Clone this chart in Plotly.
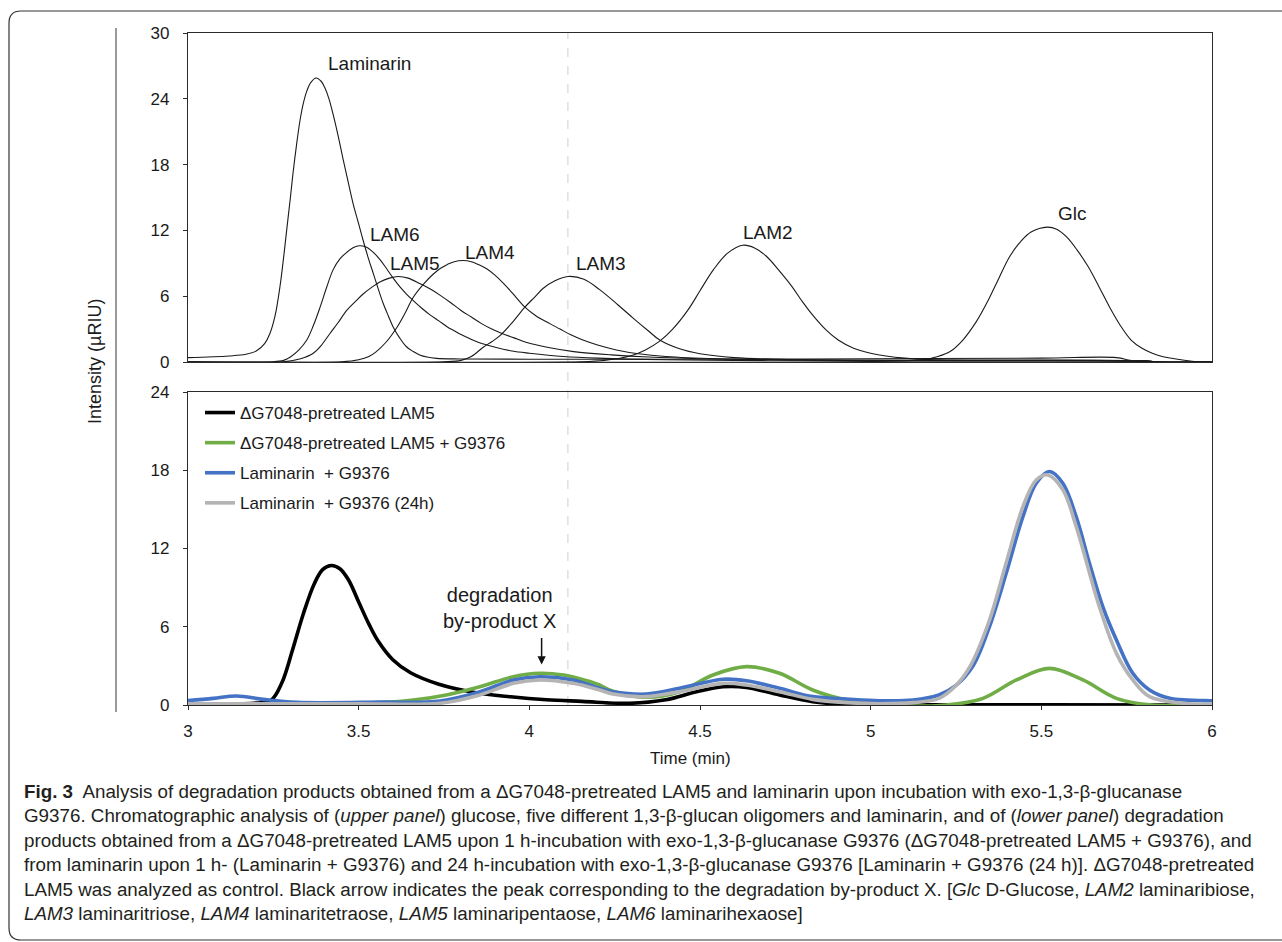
import plotly.graph_objects as go

# ---------------- data ----------------
# Upper panel: standards (time in min, intensity in µRIU)
lam_x = [3.0, 3.12, 3.17, 3.20, 3.225, 3.24, 3.255, 3.27, 3.28, 3.289, 3.30, 3.308, 3.318, 3.328, 3.338,
         3.348, 3.36, 3.375, 3.39, 3.401, 3.413, 3.425, 3.44, 3.455, 3.47, 3.484, 3.50, 3.513, 3.528, 3.543,
         3.558, 3.572, 3.587, 3.601, 3.62, 3.64, 3.66, 3.679, 3.70, 3.728, 3.8, 4.0, 4.5, 5.0, 5.5, 5.72,
         5.76, 5.8, 6.0]
lam_y = [0.4, 0.55, 0.7, 1.0, 1.7, 2.6, 4.2, 7.0, 9.5, 12.0, 15.0, 17.3, 19.8, 22.0, 23.6,
         24.7, 25.5, 25.9, 25.6, 25.0, 24.0, 22.6, 20.6, 18.4, 16.3, 14.4, 12.6, 11.1, 9.5, 8.06,
         6.6, 5.33, 4.2, 3.2, 2.2, 1.39, 0.95, 0.64, 0.45, 0.33, 0.28, 0.25, 0.25, 0.3, 0.35, 0.4,
         0.15, 0.0, 0.0]

lam6_x = [3.0, 3.25, 3.28, 3.30, 3.325, 3.348, 3.367, 3.387, 3.405, 3.425, 3.445, 3.465, 3.485, 3.502, 3.52,
          3.543, 3.562, 3.582, 3.60, 3.621, 3.64, 3.66, 3.685, 3.709, 3.735, 3.76, 3.78, 3.80, 3.85, 3.90,
          3.95, 4.0, 4.1, 4.2, 4.4, 4.7, 5.0, 5.5, 5.8, 5.85, 6.0]
lam6_y = [0.0, 0.02, 0.15, 0.45, 1.1, 2.0, 3.3, 5.0, 6.7, 8.4, 9.4, 10.0, 10.45, 10.6, 10.5,
          10.0, 9.35, 8.5, 7.7, 6.85, 6.2, 5.6, 4.9, 4.3, 3.75, 3.2, 2.85, 2.5, 1.8, 1.35,
          1.0, 0.8, 0.5, 0.35, 0.2, 0.12, 0.1, 0.1, 0.08, 0.0, 0.0]

lam5_x = [3.0, 3.28, 3.33, 3.367, 3.39, 3.416, 3.44, 3.465, 3.49, 3.513, 3.54, 3.562, 3.59, 3.616, 3.645,
          3.679, 3.71, 3.738, 3.77, 3.80, 3.83, 3.86, 3.89, 3.92, 3.955, 3.99, 4.06, 4.13, 4.24, 4.35,
          4.5, 4.7, 5.0, 5.5, 5.8, 5.85, 6.0]
lam5_y = [0.0, 0.02, 0.3, 0.8, 1.5, 2.6, 3.6, 4.7, 5.5, 6.2, 6.85, 7.3, 7.65, 7.8, 7.65,
          7.15, 6.65, 6.1, 5.4, 4.7, 4.1, 3.5, 3.0, 2.6, 2.2, 1.8, 1.3, 0.95, 0.65, 0.45,
          0.3, 0.2, 0.12, 0.1, 0.08, 0.0, 0.0]

lam4_x = [3.0, 3.45, 3.50, 3.53, 3.55, 3.58, 3.611, 3.635, 3.66, 3.69, 3.718, 3.74, 3.76, 3.78, 3.805,
          3.83, 3.85, 3.875, 3.90, 3.925, 3.95, 3.987, 4.02, 4.06, 4.09, 4.12, 4.157, 4.20, 4.255, 4.32,
          4.40, 4.55, 4.8, 5.2, 5.6, 5.8, 5.85, 6.0]
lam4_y = [0.0, 0.02, 0.2, 0.5, 0.9, 1.8, 3.1, 4.4, 5.9, 7.1, 8.0, 8.55, 8.9, 9.15, 9.25,
          9.15, 8.9, 8.5, 7.9, 7.15, 6.3, 5.0, 4.2, 3.5, 3.0, 2.5, 2.0, 1.55, 1.1, 0.75,
          0.5, 0.3, 0.2, 0.15, 0.15, 0.1, 0.0, 0.0]

lam3_x = [3.0, 3.75, 3.80, 3.83, 3.865, 3.89, 3.914, 3.95, 3.987, 4.015, 4.04, 4.075, 4.113, 4.16, 4.206,
          4.26, 4.304, 4.35, 4.382, 4.44, 4.50, 4.6, 4.8, 5.2, 5.8, 5.85, 6.0]
lam3_y = [0.0, 0.02, 0.15, 0.5, 1.35, 1.85, 2.4, 3.6, 5.0, 5.9, 6.7, 7.4, 7.8, 7.55, 6.6,
          5.2, 4.0, 2.8, 2.0, 1.2, 0.75, 0.4, 0.2, 0.15, 0.1, 0.0, 0.0]

lam2_x = [3.0, 4.15, 4.22, 4.30, 4.34, 4.382, 4.42, 4.466, 4.50, 4.539, 4.58, 4.625, 4.66, 4.696, 4.73,
          4.769, 4.80, 4.832, 4.87, 4.905, 4.95, 5.0, 5.1, 5.2, 5.4, 5.8, 5.85, 6.0]
lam2_y = [0.0, 0.02, 0.15, 0.6, 1.1, 1.9, 3.0, 4.8, 6.5, 8.4, 9.9, 10.65, 10.4, 9.6, 8.4,
          6.9, 5.5, 4.2, 2.9, 2.0, 1.25, 0.8, 0.35, 0.2, 0.15, 0.1, 0.0, 0.0]

glc_x = [3.0, 5.0, 5.15, 5.197, 5.235, 5.27, 5.31, 5.344, 5.375, 5.407, 5.44, 5.47, 5.517, 5.545, 5.574,
         5.605, 5.637, 5.67, 5.70, 5.73, 5.763, 5.795, 5.825, 5.86, 5.899, 5.95, 6.0]
glc_y = [0.0, 0.05, 0.2, 0.5, 1.0, 2.0, 3.7, 5.6, 7.6, 9.6, 11.0, 11.85, 12.3, 12.1, 11.4,
         10.2, 8.7, 6.8, 5.0, 3.4, 2.0, 1.25, 0.8, 0.45, 0.25, 0.05, 0.0]

upper_names = ["Laminarin", "LAM6", "LAM5", "LAM4", "LAM3", "LAM2", "Glc"]
upper_label_x = [3.533, 3.606, 3.665, 3.885, 4.209, 4.70, 5.59]
upper_label_y = [27.2, 11.6, 9.0, 10.0, 9.0, 11.8, 13.5]

# Lower panel: digests
black_x = [3.0, 3.2, 3.244, 3.275, 3.306, 3.338, 3.37, 3.395, 3.42, 3.445, 3.47, 3.50, 3.53, 3.557, 3.60,
           3.652, 3.735, 3.84, 3.945, 4.05, 4.154, 4.294, 4.40, 4.49, 4.567, 4.636, 4.733, 4.83, 4.929,
           5.1, 5.5, 6.0]
black_y = [0.1, 0.15, 0.38, 1.7, 4.2, 7.0, 9.3, 10.4, 10.7, 10.45, 9.6, 7.9, 6.2, 4.9, 3.47,
           2.47, 1.59, 0.96, 0.63, 0.4, 0.28, 0.13, 0.4, 1.02, 1.4, 1.35, 0.77, 0.26, 0.03,
           0.02, 0.02, 0.0]

green_x = [3.0, 3.367, 3.562, 3.66, 3.757, 3.855, 3.953, 4.03, 4.10, 4.15, 4.20, 4.245, 4.343, 4.44, 4.538,
           4.636, 4.733, 4.83, 4.929, 5.026, 5.22, 5.329, 5.427, 5.524, 5.622, 5.72, 5.817, 6.0]
green_y = [0.0, 0.02, 0.18, 0.38, 0.77, 1.4, 2.17, 2.43, 2.3, 2.0, 1.6, 1.05, 0.59, 1.02, 2.3,
           2.94, 2.43, 1.15, 0.38, 0.02, 0.0, 0.51, 1.92, 2.81, 1.92, 0.51, 0.02, 0.0]

blue_x = [3.0, 3.074, 3.143, 3.22, 3.318, 3.562, 3.738, 3.855, 3.953, 4.03, 4.128, 4.206, 4.245, 4.343, 4.44,
          4.567, 4.636, 4.733, 4.83, 4.929, 5.026, 5.124, 5.2, 5.25, 5.30, 5.348, 5.397, 5.446, 5.485, 5.524,
          5.563, 5.602, 5.641, 5.68, 5.72, 5.768, 5.817, 5.876, 5.993, 6.0]
blue_y = [0.35, 0.51, 0.69, 0.43, 0.2, 0.22, 0.31, 1.02, 1.92, 2.17, 1.92, 1.28, 1.02, 0.84, 1.28,
          1.97, 1.86, 1.28, 0.64, 0.46, 0.33, 0.38, 0.77, 1.5, 3.0, 6.0, 10.1, 14.44, 17.0, 17.9,
          17.0, 14.44, 10.87, 7.54, 4.98, 2.43, 1.15, 0.51, 0.33, 0.33]

grey_x = [3.0, 3.5, 3.738, 3.855, 3.953, 4.03, 4.128, 4.206, 4.245, 4.343, 4.44, 4.567, 4.636, 4.733, 4.83,
          4.929, 5.026, 5.124, 5.2, 5.25, 5.29, 5.348, 5.397, 5.446, 5.485, 5.519, 5.563, 5.602, 5.67, 5.72,
          5.768, 5.817, 5.915, 6.0]
grey_y = [0.1, 0.1, 0.13, 0.77, 1.66, 1.92, 1.66, 1.15, 0.84, 0.64, 1.02, 1.66, 1.53, 1.02, 0.43,
          0.18, 0.1, 0.18, 0.51, 1.5, 2.9, 6.5, 10.9, 15.2, 17.25, 17.64, 16.5, 13.7, 7.54, 3.96,
          1.92, 0.64, 0.13, 0.05]

lower_names = ["ΔG7048-pretreated LAM5", "ΔG7048-pretreated LAM5 + G9376",
               "Laminarin\u00a0 + G9376", "Laminarin\u00a0 + G9376 (24h)"]
lower_colors = ["#000000", "#70AD47", "#4472C4", "#B4B4B4"]

x_ticks = [3, 3.5, 4, 4.5, 5, 5.5, 6]
x_ticktext = ["3", "3.5", "4", "4.5", "5", "5.5", "6"]
upper_yticks = [0, 6, 12, 18, 24, 30]
lower_yticks = [0, 6, 12, 18, 24]
marker_time = 4.113          # dashed reference line
byproduct_time = 4.036       # arrow position

caption_lines = [
    "<b>Fig. 3</b>  Analysis of degradation products obtained from a ΔG7048-pretreated LAM5 and laminarin upon incubation with exo-1,3-β-glucanase",
    "G9376. Chromatographic analysis of (<i>upper panel</i>) glucose, five different 1,3-β-glucan oligomers and laminarin, and of (<i>lower panel</i>) degradation",
    "products obtained from a ΔG7048-pretreated LAM5 upon 1 h-incubation with exo-1,3-β-glucanase G9376 (ΔG7048-pretreated LAM5 + G9376), and",
    "from laminarin upon 1 h- (Laminarin + G9376) and 24 h-incubation with exo-1,3-β-glucanase G9376 [Laminarin + G9376 (24 h)]. ΔG7048-pretreated",
    "LAM5 was analyzed as control. Black arrow indicates the peak corresponding to the degradation by-product X. [<i>Glc</i> D-Glucose, <i>LAM2</i> laminaribiose,",
    "<i>LAM3</i> laminaritriose, <i>LAM4</i> laminaritetraose, <i>LAM5</i> laminaripentaose, <i>LAM6</i> laminarihexaose]",
]

# ---------------- figure ----------------
W, H = 1282, 942
def px(x):
    return x / W
def py(y):
    return 1 - y / H

FONT = "Liberation Sans, Arial, Helvetica, sans-serif"
fig = go.Figure()

upper = [(lam_x, lam_y), (lam6_x, lam6_y), (lam5_x, lam5_y), (lam4_x, lam4_y),
         (lam3_x, lam3_y), (lam2_x, lam2_y), (glc_x, glc_y)]
for name, (xs, ys) in zip(upper_names, upper):
    fig.add_trace(go.Scatter(x=xs, y=ys, mode="lines", name=name, showlegend=False,
                             line=dict(color="#1a1a1a", width=1.1, shape="spline", smoothing=1.0),
                             xaxis="x", yaxis="y", hoverinfo="skip"))

lower = [(black_x, black_y), (green_x, green_y), (blue_x, blue_y), (grey_x, grey_y)]
for i, (name, col, (xs, ys)) in enumerate(zip(lower_names, lower_colors, lower)):
    fig.add_trace(go.Scatter(x=xs, y=ys, mode="lines", name=name, legendgroup=f"g{i}",
                             line=dict(color=col, width=3.6, shape="spline", smoothing=1.0),
                             xaxis="x2", yaxis="y2"))

xdom = [188 / W, 1212 / W]
axis_common = dict(showgrid=False, zeroline=False, showline=True, mirror=True,
                   linecolor="#2b2b2b", linewidth=1.4, automargin=False,
                   tickfont=dict(family=FONT, size=17, color="#1a1a1a"))

fig.update_layout(
    width=W, height=H, margin=dict(l=0, r=0, t=0, b=0),
    paper_bgcolor="white", plot_bgcolor="white",
    font=dict(family=FONT, color="#1a1a1a"),
    xaxis=dict(domain=xdom, range=[3, 6], anchor="y", ticks="", showticklabels=False, **axis_common),
    yaxis=dict(domain=[py(362), py(33)], range=[0, 30], tickvals=upper_yticks, ticks="outside",
               ticklen=4, tickcolor="#2b2b2b", ticklabelstandoff=10, anchor="x", **axis_common),
    xaxis2=dict(domain=xdom, range=[3, 6], anchor="y2", tickvals=x_ticks, ticktext=x_ticktext,
                ticks="outside", ticklen=4, tickcolor="#2b2b2b", ticklabelstandoff=6, **axis_common),
    yaxis2=dict(domain=[py(705), py(392)], range=[0, 24], tickvals=lower_yticks, ticks="outside",
                ticklen=4, tickcolor="#2b2b2b", ticklabelstandoff=10, anchor="x2", **axis_common),
    legend=dict(x=px(200), y=py(395), xanchor="left", yanchor="top", bgcolor="rgba(0,0,0,0)",
                font=dict(family=FONT, size=17, color="#1a1a1a"), tracegroupgap=5,
                traceorder="grouped"),
    showlegend=True,
)

shapes = []
# dashed vertical marker through both panels
shapes.append(dict(type="line", xref="x", yref="paper", x0=marker_time, x1=marker_time,
                   y0=py(705), y1=py(33), line=dict(color="#cfcfcf", width=1, dash="dash"), layer="below"))
# separator line left of axis title
shapes.append(dict(type="line", xref="paper", yref="paper", x0=px(116), x1=px(116),
                   y0=py(712), y1=py(28), line=dict(color="#555555", width=1.2)))
# outer rounded frame
r = 12
path = (f"M {px(1290)},{py(11)} L {px(9 + r)},{py(11)} Q {px(9)},{py(11)} {px(9)},{py(11 + r)} "
        f"L {px(9)},{py(940 - r)} Q {px(9)},{py(940)} {px(9 + r)},{py(940)} L {px(1290)},{py(940)}")
shapes.append(dict(type="path", xref="paper", yref="paper", path=path,
                   line=dict(color="#333333", width=1.2)))
fig.update_layout(shapes=shapes)

ann = []
for name, lx, ly in zip(upper_names, upper_label_x, upper_label_y):
    ann.append(dict(x=lx, y=ly, xref="x", yref="y", text=name, showarrow=False,
                    font=dict(family=FONT, size=19, color="#1a1a1a"), xanchor="center", yanchor="middle"))
ann.append(dict(x=3.914, y=7.44, xref="x2", yref="y2", text="degradation<br>by-product X",
                showarrow=False, font=dict(family=FONT, size=20, color="#1a1a1a"),
                xanchor="center", yanchor="middle"))
ann.append(dict(x=byproduct_time, y=3.1, xref="x2", yref="y2", text="", showarrow=True,
                ax=0, ay=-28, arrowhead=2, arrowsize=1.1, arrowwidth=1.5, arrowcolor="#111111", standoff=0))
ann.append(dict(x=px(95), y=py(362), xref="paper", yref="paper", text="Intensity (µRIU)",
                textangle=-90, showarrow=False, font=dict(family=FONT, size=18, color="#1a1a1a"),
                xanchor="center", yanchor="middle"))
ann.append(dict(x=px(690), y=py(758), xref="paper", yref="paper", text="Time (min)",
                showarrow=False, font=dict(family=FONT, size=17, color="#1a1a1a"),
                xanchor="center", yanchor="middle"))
cap_y = [791, 815.5, 840, 864.5, 889, 913.5]
for line, yy in zip(caption_lines, cap_y):
    ann.append(dict(x=px(22), y=py(yy), xref="paper", yref="paper", text=line, showarrow=False,
                    font=dict(family=FONT, size=18.8, color="#231f20"), xanchor="left", yanchor="middle"))
fig.update_layout(annotations=ann)

fig.write_html("out.html")
